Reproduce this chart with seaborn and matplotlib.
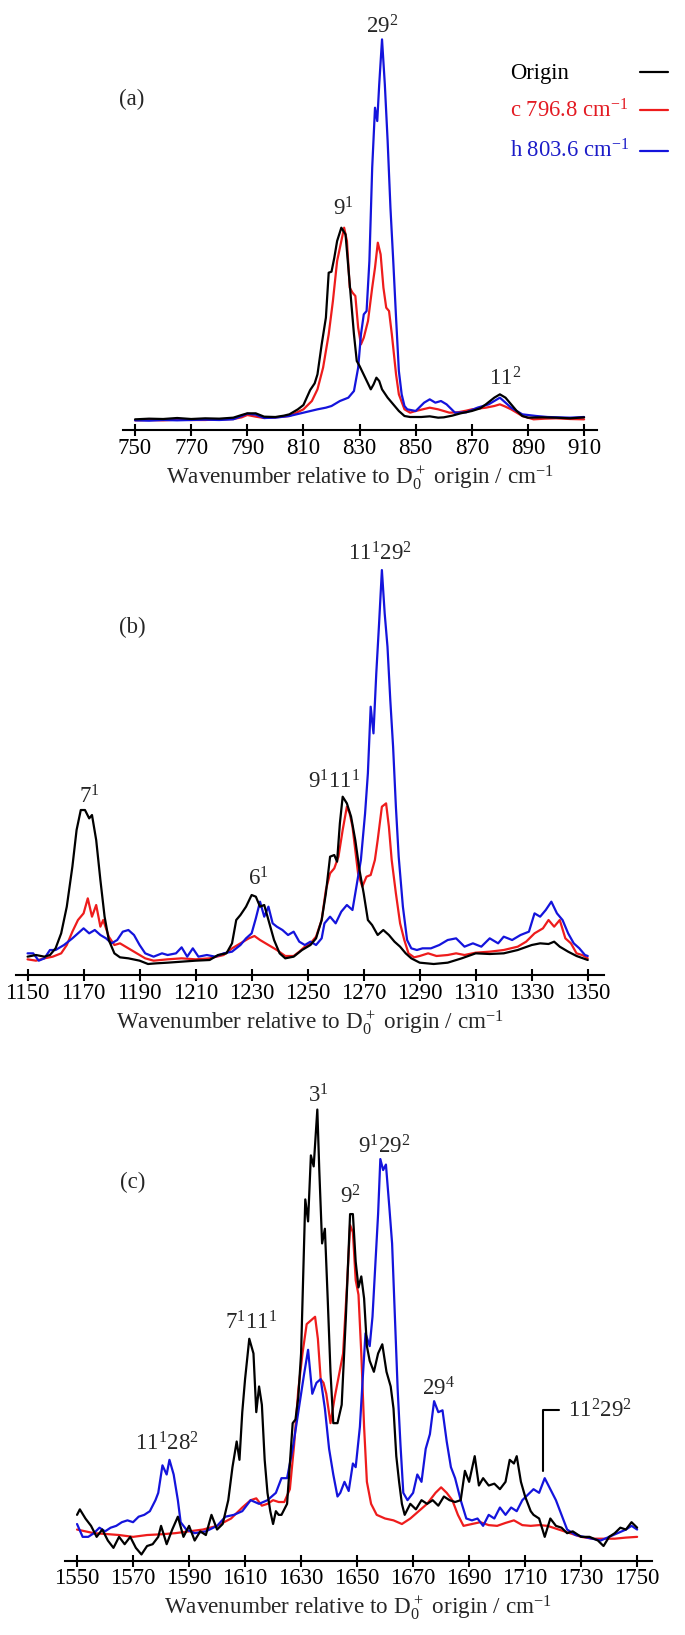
import numpy as np
import matplotlib
matplotlib.use("Agg")
import matplotlib.pyplot as plt
from matplotlib.lines import Line2D
import seaborn as sns

# ---- panel (a): 750-910 cm-1 -------------------------------------------
a_origin = np.array([
    (750, 3.2), (755, 3.4), (760, 3.3), (765, 3.6), (770, 3.3), (775, 3.5), (780, 3.4),
    (785, 3.7), (788, 4.5), (790, 5.0), (793, 5.0), (796, 4.0), (800, 3.9), (803, 4.3),
    (805, 4.7), (808, 6.2), (810, 7.5), (812.4, 12.0), (814, 14.0), (815, 16.7),
    (816.5, 25.7), (818, 33.7), (819, 47.2), (820, 47.5), (821, 51.7), (822, 56.7),
    (823.5, 60.7), (825, 58.7), (826, 48.7), (827, 38.7), (828, 28.7), (829, 20.7),
    (830, 19.2), (832, 15.7), (834, 12.2), (835, 13.7), (836, 15.7), (837, 14.7),
    (838, 12.2), (840, 9.7), (842, 7.7), (844, 5.7), (846, 4.2), (848, 3.9), (852, 3.9),
    (855, 4.1), (858, 3.7), (860, 3.8), (863, 4.3), (866, 5.0), (870, 5.7), (873, 6.5),
    (875, 7.7), (878, 9.7), (880, 10.7), (882, 9.7), (884, 7.7), (886, 5.7), (888, 4.2),
    (890, 3.7), (895, 3.8), (900, 3.7), (905, 3.5), (910, 3.8)])
a_c796 = np.array([
    (750, 2.9), (755, 3.0), (760, 2.9), (765, 3.1), (770, 3.0), (775, 3.0), (780, 3.2),
    (785, 3.3), (788, 3.8), (790, 4.5), (793, 4.0), (796, 3.6), (800, 3.8), (805, 4.2),
    (810, 6.2), (813, 8.7), (815, 12.2), (817, 18.7), (819, 28.7), (820.5, 38.7),
    (822, 50.7), (823.5, 56.7), (824.5, 60.7), (825.5, 56.7), (826.5, 42.7), (827.5, 41.2),
    (828.5, 40.2), (829.5, 30.7), (830.5, 25.7), (831.5, 27.7), (833, 32.7), (834.5, 42.7),
    (835.5, 48.7), (836.5, 56.2), (837.5, 52.7), (838.5, 42.7), (839.5, 36.7),
    (840.5, 35.7), (841.5, 28.7), (843, 16.7), (844, 10.7), (846, 6.2), (848, 5.2),
    (850, 5.7), (853, 6.3), (855, 6.7), (858, 6.2), (862, 5.2), (865, 5.3), (868, 5.8),
    (870, 6.2), (873, 6.5), (875, 6.7), (878, 7.2), (880, 7.7), (882, 7.0), (884, 6.2),
    (888, 4.2), (892, 3.2), (896, 3.4), (900, 3.5), (905, 3.3), (910, 3.2)])
a_h803 = np.array([
    (750, 2.9), (755, 2.8), (760, 3.0), (765, 2.9), (770, 3.0), (775, 3.1), (780, 3.0),
    (785, 3.2), (788, 4.2), (790, 4.9), (793, 4.6), (796, 3.6), (800, 3.7), (805, 4.2),
    (810, 5.2), (815, 6.2), (818, 6.7), (820, 7.2), (823, 8.7), (826, 9.7), (828, 11.7),
    (829.5, 18.7), (830.5, 28.7), (831.5, 34.7), (832.5, 35.7), (833.5, 50.7),
    (834.5, 78.7), (835.5, 96.7), (836.3, 92.7), (837, 103.7), (838, 117.2), (839, 103.7),
    (840, 86.7), (841, 66.7), (842, 50.7), (843, 33.7), (844, 17.7), (845, 10.7),
    (846, 7.2), (847, 6.2), (850, 5.7), (853, 8.2), (855, 9.2), (857, 8.2), (859, 8.7),
    (861, 7.7), (864, 5.2), (868, 5.3), (872, 6.7), (876, 7.7), (880, 9.7), (884, 6.7),
    (888, 4.7), (893, 4.2), (897, 3.9), (905, 3.7), (910, 3.9)])

# ---- panel (b): 1150-1350 cm-1 -----------------------------------------
b_origin = np.array([
    (1150, 5.5), (1153, 6.0), (1156, 5.5), (1158, 6.0), (1160, 8.0), (1162, 12.5),
    (1164, 20.5), (1166, 32.5), (1167.5, 43.5), (1169, 49.5), (1170.5, 49.5), (1172, 47),
    (1173, 48), (1174.5, 40.5), (1176, 28.5), (1177.5, 17.5), (1179, 10.5), (1181, 6.5),
    (1183, 5.3), (1186, 5.0), (1190, 4.3), (1193, 3.3), (1196, 3.5), (1200, 3.7),
    (1205, 4.0), (1210, 4.3), (1215, 4.5), (1218, 6.0), (1221, 6.5), (1223, 9.5),
    (1224.5, 16.5), (1226, 18), (1228, 20.5), (1230, 24), (1231.5, 23.5), (1233, 20.5),
    (1234.5, 21), (1236, 16.5), (1238, 10.5), (1240, 6.5), (1242, 5.0), (1245, 5.5),
    (1248, 7.5), (1251, 9.0), (1253, 11), (1255, 16.5), (1256.5, 24.5), (1258, 35.5),
    (1259.5, 36), (1260.5, 34), (1261.5, 45.5), (1262.5, 53.5), (1264, 51.5),
    (1265.5, 47.5), (1267, 40.5), (1268.5, 31.5), (1270, 24.5), (1271.5, 16.5),
    (1273, 15), (1275, 12), (1277, 13.5), (1279, 12), (1281, 10), (1283, 8.5),
    (1285, 6.5), (1287, 5.0), (1290, 3.7), (1295, 3.3), (1300, 3.7), (1305, 5.0),
    (1310, 6.5), (1315, 6.3), (1320, 6.5), (1325, 7.5), (1330, 9.0), (1333, 9.5),
    (1336, 9.3), (1338, 10), (1340, 8.5), (1343, 7.0), (1346, 5.7), (1350, 4.5)])
b_c796 = np.array([
    (1150, 4.7), (1153, 4.3), (1156, 5.0), (1159, 5.5), (1162, 6.5), (1164, 9),
    (1166, 13), (1168, 16.5), (1170, 18.5), (1171.5, 23), (1173, 17.5), (1174.5, 21),
    (1176, 14.5), (1177, 16.5), (1179, 11.5), (1181, 9), (1183, 9.5), (1186, 8),
    (1189, 6.5), (1192, 5.0), (1195, 4.3), (1200, 4.7), (1205, 5.0), (1210, 4.7),
    (1215, 5.0), (1220, 6.0), (1223, 8), (1226, 9.5), (1229, 11), (1231, 11.7),
    (1233, 10.5), (1236, 9), (1239, 7.5), (1242, 5.7), (1245, 5.7), (1247, 7.0),
    (1249, 8.5), (1251, 9.5), (1253, 11.5), (1255, 16.5), (1256.5, 25.5), (1258, 30.5),
    (1259.5, 32), (1261, 35.5), (1262.5, 43.5), (1264, 50.5), (1265, 48.5), (1266, 44.5),
    (1267, 37.5), (1268, 30.5), (1269.5, 26.5), (1271, 29.5), (1272.5, 30), (1274, 34.5),
    (1275, 40.5), (1276.5, 50.5), (1278, 51.5), (1279, 44.5), (1280, 34.5),
    (1281.5, 24.5), (1283, 15.5), (1284.5, 10.5), (1286, 6.5), (1288, 5.3), (1290, 5.7),
    (1293, 6.5), (1296, 5.7), (1300, 6.0), (1303, 6.5), (1306, 6.0), (1310, 6.7),
    (1315, 7.0), (1320, 7.5), (1325, 8.5), (1328, 10), (1331, 12.5), (1334, 14),
    (1336, 16.5), (1338, 14.5), (1340, 16.5), (1342, 11), (1344, 9.5), (1346, 6.5),
    (1348, 6.0), (1350, 5.0)])
b_h803 = np.array([
    (1150, 6.5), (1152, 6.5), (1154, 4.3), (1156, 5.0), (1158, 7.5), (1160, 7.5),
    (1163, 9), (1166, 11), (1168, 12.5), (1170, 14), (1172, 12.5), (1174, 13.5),
    (1176, 12), (1178, 11), (1180, 9.5), (1182, 10.5), (1184, 13), (1186, 13.5),
    (1188, 12), (1190, 9), (1192, 6.5), (1195, 5.5), (1198, 6.5), (1200, 6.0),
    (1203, 6.5), (1205, 8.3), (1207, 5.5), (1209, 8), (1211, 5.5), (1214, 6.0),
    (1217, 5.5), (1220, 6.5), (1223, 7.0), (1226, 9), (1228, 11), (1230, 12.5),
    (1231.5, 17), (1233, 22), (1234.5, 17.5), (1236, 20.5), (1237.5, 15.5), (1239, 14.5),
    (1241, 13.5), (1243, 12), (1245, 13), (1247, 10), (1249, 9), (1251, 10), (1253, 9),
    (1255, 11), (1256, 15.5), (1258, 17.5), (1260, 15.5), (1262, 19), (1264, 21),
    (1266, 19.5), (1267.5, 27), (1269, 34.5), (1270.5, 48.5), (1271.5, 60.5),
    (1272.5, 80.5), (1273.5, 72.5), (1274.5, 90.5), (1275.5, 105.5), (1276.5, 121.5),
    (1277.5, 108.5), (1278.5, 98.5), (1279.5, 82.5), (1280.5, 68.5), (1281.5, 50.5),
    (1282.5, 35.5), (1284, 20.5), (1285.5, 10.5), (1287, 8), (1289, 7.5), (1291, 8),
    (1294, 8), (1297, 9), (1300, 10.5), (1303, 11), (1306, 8.5), (1309, 9.5),
    (1312, 8.5), (1315, 11), (1318, 9.5), (1320, 11.5), (1323, 10.5), (1326, 12),
    (1329, 13), (1331, 18.5), (1333, 17.5), (1335, 19.5), (1337, 22), (1339, 18.5),
    (1341, 16.5), (1343, 12.5), (1345, 9.5), (1347, 8), (1349, 6), (1350, 5.7)])

# ---- panel (c): 1550-1750 cm-1 -----------------------------------------
c_origin = np.array([
    (1550, 12.5), (1551, 14), (1553, 11.5), (1555, 9.5), (1557, 6.5), (1559, 8.5),
    (1561, 5.5), (1563, 3.5), (1565, 6.5), (1567, 4.5), (1569, 6.5), (1571, 3.5),
    (1573, 1.7), (1575, 4), (1577, 4.5), (1579, 6.5), (1580, 9.5), (1582, 4.5),
    (1584, 8.5), (1586, 12), (1588, 6.5), (1590, 9.5), (1592, 5.5), (1594, 8),
    (1596, 7), (1598, 12.5), (1600, 8.5), (1602, 10), (1604, 16.5), (1605.5, 25.5),
    (1607, 32.5), (1608, 27.5), (1609, 40.5), (1610, 49.5), (1611.5, 60.5), (1613, 56.5),
    (1614, 40.5), (1615, 47.5), (1616, 42.5), (1617, 27.5), (1618, 18.5), (1619, 13.5),
    (1620, 10), (1621, 13.5), (1622, 12.5), (1623, 12.5), (1625, 15.5), (1627, 37.5),
    (1628, 38.5), (1629, 44.5), (1630, 56.5), (1631.5, 98.5), (1632.5, 92.5),
    (1633.5, 110.5), (1634.5, 107.5), (1635.8, 123), (1636.5, 106.5), (1637.5, 86.5),
    (1638.5, 90.5), (1639.5, 71.5), (1640.5, 51.5), (1641.5, 37.5), (1643, 37.5),
    (1644.5, 42.5), (1646, 66.5), (1647.5, 94.5), (1648.5, 94.5), (1649.5, 81.5),
    (1650.5, 74.5), (1651.5, 77.5), (1652.5, 71.5), (1653.5, 58.5), (1654.5, 54.5),
    (1656, 51.5), (1657.5, 56.5), (1659, 59), (1660.5, 51.5), (1662, 47.5), (1663, 41.5),
    (1664, 28.5), (1665, 21.5), (1666, 15.5), (1667, 12.5), (1669, 15.5), (1671, 14),
    (1673, 16.5), (1675, 15.5), (1677, 16.5), (1679, 15), (1681, 17.5), (1683, 16.5),
    (1685, 16), (1687, 16.5), (1688.5, 24.5), (1690, 21.5), (1692, 28.5), (1693.5, 20.5),
    (1695, 22.5), (1697, 20.5), (1699, 21), (1701, 19.5), (1703, 21.5), (1704.5, 27.5),
    (1706, 26.5), (1707, 28.5), (1708.5, 21.5), (1710, 17.5), (1712, 13.5), (1713, 12.5),
    (1715, 11.5), (1717, 6.5), (1719, 11.5), (1721, 9.5), (1723, 9), (1725, 7.5),
    (1727, 8), (1730, 6.5), (1733, 6.5), (1736, 5.5), (1738, 4), (1740, 6.5),
    (1742, 7.5), (1744, 9), (1746, 8.5), (1748, 10.5), (1750, 9)])
c_c796 = np.array([
    (1550, 8.5), (1553, 8.0), (1556, 7.5), (1560, 7.3), (1565, 7.0), (1570, 6.5),
    (1575, 7.0), (1580, 7.2), (1585, 7.5), (1590, 8.0), (1595, 8.5), (1600, 9.5),
    (1605, 11.5), (1609, 14.5), (1612, 16.5), (1614, 17), (1616, 15), (1618, 15.5),
    (1620, 16.5), (1622, 16), (1624, 16), (1626, 19.5), (1627.5, 31.5), (1629, 46.5),
    (1630.5, 56.5), (1632, 64.5), (1633.5, 65.5), (1635, 66.5), (1636, 60.5),
    (1637, 49.5), (1638, 48.5), (1639, 45.5), (1640.5, 37.5), (1642, 44.5),
    (1643.5, 50.5), (1645, 56.5), (1646.5, 76.5), (1647.5, 91.5), (1648.5, 89.5),
    (1649.5, 76.5), (1650.5, 72.5), (1651.5, 56.5), (1652.5, 36.5), (1653.5, 21.5),
    (1655, 15.5), (1657, 12.5), (1660, 11.5), (1663, 11), (1666, 10), (1669, 11.5),
    (1672, 13.5), (1675, 15.5), (1678, 18.5), (1680, 20), (1682, 18.5), (1684, 16.5),
    (1686, 12.5), (1688, 9.5), (1691, 10), (1694, 10.5), (1697, 9.7), (1700, 9.5),
    (1703, 10.3), (1706, 11), (1709, 9.7), (1712, 9.5), (1715, 9.7), (1718, 9.5),
    (1722, 8.5), (1726, 7.5), (1730, 6.5), (1734, 6.0), (1738, 6.0), (1742, 6.0),
    (1746, 6.3), (1750, 6.5)])
c_h803 = np.array([
    (1550, 10), (1552, 6.5), (1554, 6.5), (1556, 7.5), (1558, 9), (1560, 8), (1562, 9),
    (1564, 9.5), (1566, 10.5), (1568, 11), (1570, 10.5), (1572, 12), (1574, 12.5),
    (1576, 13.5), (1578, 16.5), (1579, 18.5), (1580.5, 26), (1582, 23.5), (1583, 27.5),
    (1584.5, 23.5), (1586, 16.5), (1587, 10.5), (1589, 8.5), (1592, 7.5), (1596, 8),
    (1600, 9.5), (1603, 12), (1606, 12.5), (1609, 13.5), (1612, 16.5), (1615, 15.5),
    (1618, 16.5), (1621, 18.5), (1623, 22.5), (1625, 22.5), (1627, 30.5), (1629, 40.5),
    (1631, 50.5), (1632.5, 57.5), (1634, 45.5), (1635.5, 48.5), (1637, 49.5),
    (1638.5, 41.5), (1640, 30.5), (1641.5, 23.5), (1643, 17.5), (1644, 18.5),
    (1645.5, 21.5), (1647, 19), (1648.5, 26.5), (1649.5, 25.5), (1651, 36.5),
    (1652, 49.5), (1653, 62), (1654.5, 58.5), (1655.5, 66.5), (1656.5, 80.5),
    (1657.5, 94.5), (1658.3, 109.5), (1659.3, 106.5), (1660.3, 108), (1661.5, 96.5),
    (1662.5, 86.5), (1663.5, 66.5), (1664.5, 46.5), (1665.5, 31.5), (1666.5, 18.5),
    (1668, 16.5), (1670, 18.5), (1671.5, 23.5), (1673, 21.5), (1674.5, 30.5),
    (1676, 34.5), (1677.5, 43.5), (1679, 40.5), (1680.5, 41), (1682, 32.5),
    (1683.5, 25.5), (1685, 22.5), (1687, 16.5), (1689, 11.5), (1691, 11), (1693, 11.5),
    (1695, 9.5), (1697, 12.5), (1699, 11.5), (1701, 14.5), (1703, 12.5), (1705, 14.5),
    (1707, 13.5), (1709, 16.5), (1711, 18), (1713, 19.5), (1715, 18.5), (1717, 22.5),
    (1719, 19.5), (1721, 16.5), (1723, 12.5), (1725, 8.5), (1728, 7), (1731, 6.5),
    (1734, 6), (1737, 5.5), (1740, 6.5), (1743, 7.5), (1746, 8.5), (1748, 9.5),
    (1750, 8.5)])

legend_labels = ["Origin", "c 796.8 cm$^{-1}$", "h 803.6 cm$^{-1}$"]
colors = {"origin": "black", "c796": "#ee1c1c", "h803": "#1414dc"}
text_colors = ["black", "#e31b23", "#1c1cc8"]

# peak labels: (text, wavenumber, height)
a_labels = [("29$^2$", 838, 119), ("9$^1$", 824.3, 64.5),
            ("11$^2$", 881.9, 13.5), ("(a)", 748.7, 97.5)]
b_labels = [("11$^1$29$^2$", 1275.8, 124.3), ("9$^1$11$^1$", 1259.4, 56),
            ("7$^1$", 1172, 51.5), ("6$^1$", 1232.3, 27), ("(b)", 1187.5, 102.5)]
c_labels = [("3$^1$", 1636, 125), ("9$^1$29$^2$", 1659.8, 111), ("9$^2$", 1647.5, 97.5),
            ("7$^1$11$^1$", 1612.1, 63), ("29$^4$", 1679.2, 45),
            ("11$^1$28$^2$", 1582.2, 30), ("(c)", 1569.8, 101.5)]

sns.set_style("white")
plt.rcParams["font.family"] = ["Liberation Serif", "DejaVu Serif"]
plt.rcParams["mathtext.fontset"] = "custom"
plt.rcParams["mathtext.rm"] = "Liberation Serif"
plt.rcParams["mathtext.default"] = "regular"

W, H = 685, 1635
fig = plt.figure(figsize=(W / 100, H / 100), dpi=100)


def add_panel(left, right, top, bottom):
    return fig.add_axes([left / W, 1 - bottom / H, (right - left) / W, (bottom - top) / H])


def draw_panel(ax, origin, c796, h803, xlim, ylim, ticks, labels):
    lines = {}
    for key, arr in (("c796", c796), ("h803", h803), ("origin", origin)):
        sns.lineplot(x=arr[:, 0], y=arr[:, 1], ax=ax, color=colors[key], lw=1.6,
                     estimator=None, sort=False)
        lines[key] = ax.lines[-1]
    ax.set_xlim(*xlim)
    ax.set_ylim(*ylim)
    ax.set_xticks(ticks)
    ax.set_yticks([])
    sns.despine(ax=ax, left=True)
    ax.spines["bottom"].set_color("black")
    ax.spines["bottom"].set_linewidth(1.5)
    ax.tick_params(axis="x", direction="inout", length=8, width=1.5, colors="black",
                   labelsize=16.5, pad=1.5, bottom=True)
    ax.set_xlabel("Wavenumber relative to D$_0^+$ origin / cm$^{-1}$", fontsize=16.7,
                  labelpad=3)
    for txt, xv, yv in labels:
        ax.text(xv, yv, txt, ha="center", va="baseline", fontsize=16.5)
    return lines


ax_a = add_panel(122.7, 597, 13.4, 430)
ax_b = add_panel(15.8, 604, 548.4, 975)
ax_c = add_panel(65, 651.7, 1091.2, 1560.7)

lines_a = draw_panel(ax_a, a_origin, a_c796, a_h803, (745.6, 914.6), (0, 125),
                     range(750, 911, 20), a_labels)
draw_panel(ax_b, b_origin, b_c796, b_h803, (1145.8, 1355.8), (0, 128),
           range(1150, 1351, 20), b_labels)
draw_panel(ax_c, c_origin, c_c796, c_h803, (1545.7, 1755.2), (0, 128),
           range(1550, 1751, 20), c_labels)

# bracketed label for the 11^2 29^2 band
ax_c.annotate("11$^2$29$^2$", xy=(1716.4, 24.5), xytext=(1725.4, 39), fontsize=16.5,
              va="baseline", ha="left",
              arrowprops=dict(arrowstyle="-", color="black", lw=1.5, shrinkA=4, shrinkB=0,
                              relpos=(0, 0.55),
                              connectionstyle="angle,angleA=0,angleB=90,rad=0"))

# key in the top right corner: text left-aligned, short line to the right
key_baselines = [79.5, 117, 157]
key_line_y = [72.5, 110, 151.5]
for lab, tc, key, yb, yl in zip(legend_labels, text_colors, ["origin", "c796", "h803"],
                                key_baselines, key_line_y):
    fig.text(510.5 / W, 1 - yb / H, lab, color=tc, fontsize=16.3, ha="left", va="baseline")
    fig.add_artist(Line2D([640 / W, 668 / W], [1 - yl / H, 1 - yl / H],
                          transform=fig.transFigure, color=lines_a[key].get_color(),
                          lw=1.6))

fig.savefig("out.png", dpi=100)
